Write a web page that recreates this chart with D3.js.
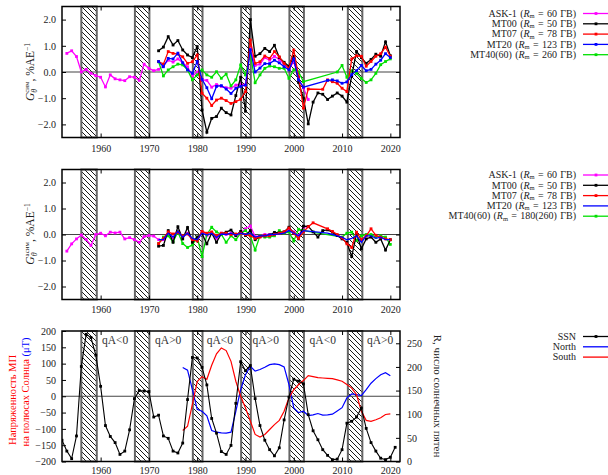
<!DOCTYPE html>
<html>
<head>
<meta charset="utf-8">
<script src="https://cdn.jsdelivr.net/npm/d3@7"></script>
<style>
  body { margin: 0; background: #fff; }
  svg { display: block; font-family: "Liberation Serif", "DejaVu Serif", serif; }
</style>
</head>
<body>
<div id="chart"></div>
<script>
// ---- data ----
const mtYears = d3.range(1972, 2021);
const askYears = d3.range(1953, 2004);
const ssnYears = d3.range(1952, 2022);
const poleYears = d3.range(1977, 2021);

// periods of solar polarity reversal (hatched)
const reversals = [[1956.0, 1959.2], [1967.1, 1970.1], [1979.1, 1981.1], [1989.1, 1991.1], [1999.1, 2002.1], [2011.2, 2014.2]];

// symmetric part, %/AU
const askSym = [0.71, 0.81, 0.59, 0.0, 0.1, -0.05, -0.14, -0.2, -0.57, -0.11, -0.26, -0.3, -0.33, -0.18, -0.2, -0.32, 0.3, 0.14, 0.05,
  0.1, 0.25, 0.45, 0.38, 0.5, 0.35, 0.2, -0.15, 0.0, -0.3, -0.32, -0.58, -0.48, -0.55, -0.6, -0.62, -0.5, -0.45, -0.5, 0.9,
  0.25, 0.3, 0.55, 0.45, 0.6, 0.48, 0.3, 0.1, 0.4, -0.3, -0.6, -1.05];
const mt00Sym = [0.81, 0.95, 1.35, 1.03, 1.2, 0.84, 0.65, 0.55, 0.97, -1.45, -2.3, -1.77, -1.7, -1.38, -1.55, -1.64, -0.9, -0.2, -1.5,
  2.0, 0.6, 0.7, 0.9, 0.78, 1.02, 0.55, 0.37, 0.22, 0.6, -0.4, -1.0, -1.98, -1.15, -0.8, -0.85, -1.05, -0.92, -0.8, -0.92,
  -1.15, -0.15, 0.78, 0.55, 0.33, 0.48, 0.68, 0.6, 1.15, 0.62];
const mt07Sym = [0.4, 0.3, 0.78, 0.71, 0.68, 0.58, 0.33, 0.39, 0.65, -0.81, -1.0, -1.28, -1.07, -1.0, -1.09, -1.2, -1.13, -1.04, -0.75,
  1.22, 0.33, 0.39, 0.61, 0.52, 0.78, 0.58, 0.33, 0.14, 0.84, -0.18, -1.38, -0.65, null, null, -0.66, -0.3, -0.37, -0.43, -0.62,
  -0.75, 0.5, 0.62, 0.6, 0.22, 0.4, 0.6, 0.7, 0.95, 0.6];
const mt20Sym = [0.4, 0.2, 0.52, 0.5, 0.72, 0.35, 0.08, -0.05, 0.4, -0.28, -0.6, -1.02, -0.55, -0.52, -0.65, -0.82, -0.62, -0.55, -0.5,
  0.85, 0.0, 0.15, 0.32, 0.32, 0.45, 0.35, 0.2, 0.08, 0.5, -0.3, -0.58, null, null, null, null, -0.32, -0.3, -0.34, -0.43,
  -0.38, -0.1, 0.05, 0.25, 0.05, 0.1, 0.3, 0.45, 0.7, 0.55];
const mt40Sym = [0.39, -0.15, 0.08, 0.2, 0.3, 0.27, 0.08, -0.3, -0.11, 0.08, -0.11, -0.2, 0.01, -0.24, -0.08, -0.53, -0.3, 0.27, -0.11,
  0.7, -0.41, -0.11, 0.14, 0.23, 0.2, 0.14, 0.14, -0.24, 0.08, 0.01, -0.37, null, null, null, null, null, null, 0.0, 0.25,
  -0.2, 0.05, -0.05, -0.25, -0.4, -0.3, -0.05, 0.28, 0.4, 0.5];

// asymmetric part, %/AU
const askAsym = [-0.64, -0.36, -0.17, -0.02, -0.19, -0.42, 0.0, 0.05, -0.05, 0.09, 0.06, 0.09, -0.17, -0.12, -0.2, -0.3, -0.08, -0.04, -0.06,
  -0.2, -0.2, 0.0, -0.12, 0.12, -0.1, 0.05, -0.2, -0.22, 0.1, -0.05, 0.05, -0.15, 0.05, 0.0, 0.05, -0.05, 0.05, 0.22, 0.33,
  -0.08, -0.05, 0.0, 0.0, 0.0, 0.05, 0.08, 0.2, 0.1, -0.05, 0.28, 0.3];
const mt00Asym = [-0.45, -0.42, 0.15, -0.3, 0.3, -0.17, 0.27, -0.3, -0.1, 0.03, -0.36, 0.06, -0.3, 0.03, 0.09, 0.17, -0.04, 0.12, -0.04,
  0.15, -0.2, -0.08, -0.05, -0.02, 0.08, 0.06, 0.1, 0.28, 0.05, -0.17, 0.32, 0.31, 0.1, -0.1, 0.15, 0.18, 0.09, -0.04, -0.17,
  -0.3, -0.85, 0.03, -0.55, -0.17, -0.1, -0.3, -0.17, -0.6, -0.2];
const mt07Asym = [-0.35, -0.15, 0.1, 0.02, 0.08, -0.05, 0.02, -0.2, -0.25, 0.12, 0.05, 0.1, -0.05, 0.05, 0.05, 0.0, 0.02, 0.05, 0.0,
  -0.05, -0.15, -0.1, -0.05, -0.05, 0.0, 0.05, 0.1, 0.25, 0.05, -0.15, 0.1, 0.3, 0.45, null, null, 0.22, 0.12, 0.0, -0.13,
  -0.36, -0.5, 0.09, -0.2, -0.05, 0.22, -0.03, -0.1, -0.17, -0.2];
const mt20Asym = [-0.2, -0.2, 0.05, -0.1, 0.12, -0.1, 0.05, -0.15, -0.2, 0.05, -0.02, 0.05, -0.12, 0.02, 0.0, 0.05, -0.02, 0.05, 0.0,
  0.05, -0.1, -0.05, -0.05, 0.0, 0.0, 0.02, 0.05, 0.15, 0.05, -0.05, 0.15, null, null, null, null, 0.05, 0.0, -0.05, -0.1,
  -0.2, -0.15, -0.05, -0.3, -0.05, -0.05, -0.15, -0.1, -0.2, -0.2];
const mt40Asym = [-0.35, -0.1, -0.05, -0.28, 0.1, -0.35, -0.5, -0.4, -0.1, -0.85, 0.0, 0.28, 0.1, 0.0, -0.3, -0.05, -0.2, 0.05, 0.15,
  -0.05, -0.6, -0.05, -0.1, -0.1, -0.05, 0.15, 0.05, 0.1, -0.25, 0.2, 0.15, null, null, null, null, null, null, null, -0.1,
  0.05, 0.09, -0.23, -0.05, 0.0, 0.0, -0.1, -0.05, -0.1, -0.38];

// sunspot number (right axis) and polar fields (left axis, uT)
const ssn = [45, 22, 6, 54, 201, 269, 262, 225, 159, 76, 53, 40, 15, 22, 67, 133, 150, 149, 148, 94, 98, 54, 49, 22, 18, 39,
  131, 220, 219, 199, 162, 91, 60, 21, 15, 34, 123, 211, 192, 203, 133, 76, 45, 25, 12, 29, 88, 136, 174, 170, 164, 99, 65,
  46, 25, 13, 4, 5, 25, 81, 85, 94, 113, 70, 40, 22, 7, 4, 9, 30];
const northField = [88, 80, 20, -40, -46, -60, -105, -110, -112, -113, -110, -46, 20, 66, 92, 77, 82, 89, 97, 99, 97, 90, 36, -36,
  -50, -46, -59, -57, -53, -58, -57, -55, -45, -35, -5, 7, 5, 2, 20, 40, 54, 66, 72, 63];
const southField = [-105, -92, -25, 45, 60, 52, 95, 130, 148, 140, 107, 46, 0, -36, -76, -117, -125, -117, -102, -87, -74, -46, -5,
  20, 36, 48, 63, 60, 57, 56, 55, 54, 50, 46, 36, 25, 5, -46, -74, -77, -72, -66, -56, -54];

const qaLabels = ["qA<0", "qA>0", "qA<0", "qA>0", "qA<0", "qA>0"];
const qaYears = [1963, 1974, 1984.7, 1994.2, 2006, 2017.9];

const xTicks = [1960, 1970, 1980, 1990, 2000, 2010, 2020];
const gTicks = [-2, -1, 0, 1, 2];

// ---- chart ----
const width = 608;
const height = 475;
const left = 62, right = 400;

const svg = d3.select("#chart").append("svg")
  .attr("width", width).attr("height", height);

const defs = svg.append("defs");
defs.append("pattern").attr("id", "hatch")
  .attr("patternUnits", "userSpaceOnUse").attr("width", 5).attr("height", 5)
  .append("path").attr("d", "M0,0L5,5M-1,4L1,6M4,-1L6,1")
  .attr("stroke", "#000").attr("stroke-width", 0.9);

const x = d3.scaleLinear().domain([1952, 2022]).range([left, right]);

const cMag = "#ff00ff", cRed = "#ff0000", cBlue = "#0000ff", cGreen = "#00e000";

function drawPanel(name, top, bottom, y) {
  const g = svg.append("g");
  defs.append("clipPath").attr("id", "clip-" + name)
    .append("rect").attr("x", left).attr("y", top).attr("width", right - left).attr("height", bottom - top);

  g.selectAll("rect.band").data(reversals).join("rect")
    .attr("x", d => x(d[0])).attr("width", d => x(d[1]) - x(d[0]))
    .attr("y", top).attr("height", bottom - top)
    .attr("fill", "url(#hatch)").attr("stroke", "#666").attr("stroke-width", 2);

  g.append("line")
    .attr("x1", left).attr("x2", right).attr("y1", y(0)).attr("y2", y(0))
    .attr("stroke", "#444").attr("stroke-width", 1.2);

  const plot = g.append("g").attr("clip-path", "url(#clip-" + name + ")");
  return { g, plot };
}

function axes(g, top, bottom, yl, yr, leftTicks, rightTicks, rightLabels, pad) {
  const fs = 10;
  g.append("g").attr("transform", `translate(0,${bottom})`)
    .call(d3.axisBottom(x).tickValues(xTicks).tickFormat(d3.format("d")).tickSize(-4).tickPadding(pad))
    .call(a => a.select(".domain").remove());
  g.append("g").attr("transform", `translate(0,${top})`)
    .call(d3.axisTop(x).tickValues(xTicks).tickFormat("").tickSize(-4))
    .call(a => a.select(".domain").remove());
  g.append("g").attr("transform", `translate(${left},0)`)
    .call(d3.axisLeft(yl).tickValues(leftTicks).tickSize(-4).tickPadding(6))
    .call(a => a.select(".domain").remove());
  g.append("g").attr("transform", `translate(${right},0)`)
    .call(d3.axisRight(yr).tickValues(rightTicks).tickSize(-4).tickPadding(7).tickFormat(rightLabels ? d3.format("d") : ""))
    .call(a => a.select(".domain").remove());
  g.selectAll(".tick text").attr("font-family", "Liberation Serif").attr("font-size", fs).attr("fill", "#222");
  g.selectAll(".tick line").attr("stroke", "#000").attr("stroke-width", 1);
  g.append("rect").attr("x", left).attr("y", top).attr("width", right - left).attr("height", bottom - top)
    .attr("fill", "none").attr("stroke", "#000").attr("stroke-width", 1.5);
}

function series(plot, y, years, values, color, marker, w) {
  const pts = years.map((t, i) => [t, values[i]]).filter(p => p[1] != null);
  plot.append("path").datum(pts)
    .attr("d", d3.line().x(p => x(p[0])).y(p => y(p[1])))
    .attr("fill", "none").attr("stroke", color).attr("stroke-width", w || 1.3);
  if (marker) {
    plot.selectAll(null).data(pts).join("rect")
      .attr("x", p => x(p[0]) - 1.4).attr("y", p => y(p[1]) - 1.4)
      .attr("width", 2.8).attr("height", 2.8).attr("fill", color);
  }
}

function legend(entries, y0) {
  const g = svg.append("g").attr("font-size", 10);
  entries.forEach((e, i) => {
    const yy = y0 + i * 10.3;
    const t = g.append("text").attr("x", 576).attr("y", yy + 3.2).attr("text-anchor", "end")
      .attr("fill", "#222").attr("word-spacing", 0.8);
    if (e.r) {
      t.append("tspan").text(e.name + " (");
      t.append("tspan").attr("font-style", "italic").text("R");
      t.append("tspan").attr("font-size", 6.5).attr("dy", 1.2).text("m");
      t.append("tspan").attr("dy", -1.2).text(" = " + e.r + " ГВ)");
    } else {
      t.text(e.name);
    }
    g.append("line").attr("x1", 583).attr("x2", 610).attr("y1", yy).attr("y2", yy)
      .attr("stroke", e.color).attr("stroke-width", 1.3);
    if (e.marker) {
      g.append("rect").attr("x", 596 - 1.4).attr("y", yy - 1.4).attr("width", 2.8).attr("height", 2.8).attr("fill", e.color);
    }
  });
}

function gLabel(cx, cy, sup) {
  const t = svg.append("text")
    .attr("transform", `translate(${cx},${cy}) rotate(-90)`)
    .attr("text-anchor", "middle").attr("font-size", 11.5).attr("fill", "#222");
  t.append("tspan").attr("font-style", "italic").text("G");
  t.append("tspan").attr("font-style", "italic").attr("font-size", 8).attr("dy", 3).text("θ");
  t.append("tspan").attr("font-size", 7).attr("dx", -4).attr("dy", -8.5).text(sup);
  t.append("tspan").attr("dy", 5.5).text(", %АЕ");
  t.append("tspan").attr("font-size", 7.5).attr("dy", -4).text("−1");
}

// ---- panel 1: symmetric ----
{
  const top = 6.5, bottom = 137.5;
  const y = d3.scaleLinear().domain([-2.5, 2.5]).range([bottom, top]);
  const { g, plot } = drawPanel("sym", top, bottom, y);
  series(plot, y, askYears, askSym, cMag, true);
  series(plot, y, mtYears, mt40Sym, cGreen, true);
  series(plot, y, mtYears, mt00Sym, "#000", true);
  series(plot, y, mtYears, mt07Sym, cRed, true);
  series(plot, y, mtYears, mt20Sym, cBlue, true);
  axes(g, top, bottom, y, y, gTicks, gTicks, false, 7);
  gLabel(34, 72, "сим");
  legend([
    { name: "ASK-1", r: "60", color: cMag, marker: true },
    { name: "MT00", r: "50", color: "#000", marker: true },
    { name: "MT07", r: "78", color: cRed, marker: true },
    { name: "MT20", r: "123", color: cBlue, marker: true },
    { name: "MT40(60)", r: "260", color: cGreen, marker: true }
  ], 13.5);
}

// ---- panel 2: asymmetric ----
{
  const top = 169.5, bottom = 299.5;
  const y = d3.scaleLinear().domain([-2.5, 2.5]).range([bottom, top]);
  const { g, plot } = drawPanel("asym", top, bottom, y);
  series(plot, y, askYears, askAsym, cMag, true);
  series(plot, y, mtYears, mt40Asym, cGreen, true);
  series(plot, y, mtYears, mt00Asym, "#000", true);
  series(plot, y, mtYears, mt07Asym, cRed, true);
  series(plot, y, mtYears, mt20Asym, cBlue, false);
  axes(g, top, bottom, y, y, gTicks, gTicks, false, 6.5);
  gLabel(34, 234, "асим");
  legend([
    { name: "ASK-1", r: "60", color: cMag, marker: true },
    { name: "MT00", r: "50", color: "#000", marker: true },
    { name: "MT07", r: "78", color: cRed, marker: true },
    { name: "MT20", r: "123", color: cBlue, marker: false },
    { name: "MT40(60)", r: "180(260)", color: cGreen, marker: true }
  ], 175);
}

// ---- panel 3: sunspots and polar fields ----
{
  const top = 331, bottom = 461.5;
  const yB = d3.scaleLinear().domain([-200, 200]).range([bottom, top]);
  const yR = d3.scaleLinear().domain([0, 276]).range([bottom, top]);
  const { g, plot } = drawPanel("ssn", top, bottom, yB);
  series(plot, yB, poleYears, northField, cBlue, false, 1.2);
  series(plot, yB, poleYears, southField, cRed, false, 1.2);
  series(plot, yR, ssnYears, ssn, "#000", true, 1.1);
  plot.selectAll(null).data(qaLabels).join("text")
    .attr("x", (d, i) => x(qaYears[i])).attr("y", top + 13)
    .attr("text-anchor", "middle").attr("font-size", 11.5).attr("fill", "#333")
    .text(d => d);
  axes(g, top, bottom, yB, yR, d3.range(-200, 201, 50), d3.range(0, 251, 50), true, 5);

  svg.append("text").attr("transform", "translate(16,400) rotate(-90)")
    .attr("text-anchor", "middle").attr("font-size", 10.5).attr("fill", "#f00")
    .text("Напряженность МП");
  const l2 = svg.append("text").attr("transform", "translate(29,392) rotate(-90)")
    .attr("text-anchor", "middle").attr("font-size", 10.5).attr("fill", "#f00");
  l2.append("tspan").text("на полюсах Солнца ");
  l2.append("tspan").attr("fill", "#00f").text("(μT)");

  svg.append("text").attr("transform", "translate(434,396) rotate(90)")
    .attr("text-anchor", "middle").attr("font-size", 11).attr("fill", "#222")
    .text("R, число солнечных пятен");

  legend([
    { name: "SSN", color: "#000", marker: true },
    { name: "North", color: cBlue },
    { name: "South", color: cRed }
  ], 336.5);
}
</script>
</body>
</html>
